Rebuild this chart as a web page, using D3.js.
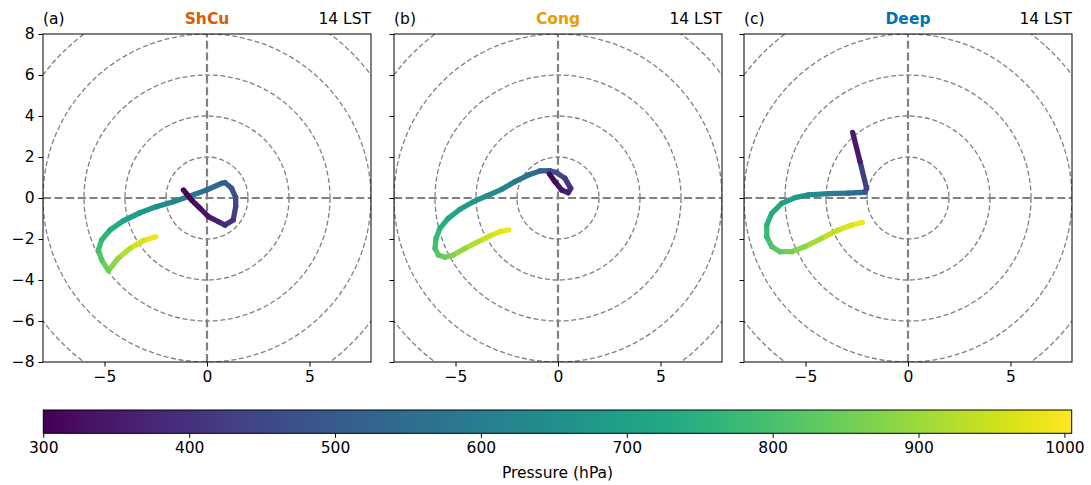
<!DOCTYPE html>
<html>
<head>
<meta charset="utf-8">
<script src="https://cdn.jsdelivr.net/npm/d3@7"></script>
<style>
  html, body { margin: 0; padding: 0; background: #fff; }
  svg { display: block; font-family: "DejaVu Sans", sans-serif; }
</style>
</head>
<body>
<svg id="chart" width="1091" height="485"></svg>
<script>
// ---------- data ----------
const panelLabels = ["(a)", "(b)", "(c)"];
const panelTitles = ["ShCu", "Cong", "Deep"];
const titleColors = ["#D55E00", "#E69F00", "#0072B2"];
const timeLabel = "14 LST";

// panel (a) ShCu: u, v (m/s), pressure (hPa), surface -> top
const uA = [-2.50,-3.11,-3.76,-4.33,-4.81,-5.14,-5.30,-5.14,-4.73,-4.08,-3.27,-2.46,-1.64,-0.83,-0.02,0.72,0.88,1.20,1.40,1.40,1.28,0.88,0.55,0.07,-0.34,-0.75,-1.15];
const vA = [-1.89,-2.08,-2.46,-2.94,-3.54,-3.02,-2.54,-2.05,-1.56,-1.11,-0.72,-0.42,-0.18,0.10,0.39,0.72,0.75,0.47,0.03,-0.42,-1.07,-1.32,-1.15,-0.91,-0.50,-0.10,0.39];
const pA = [1000,975,945,905,865,830,805,775,745,715,685,655,625,595,560,520,505,485,465,445,415,390,370,350,330,315,300];

// panel (b) Cong
const uB = [-2.39,-2.83,-3.32,-3.89,-4.54,-5.11,-5.51,-5.84,-6.00,-5.95,-5.76,-5.35,-4.78,-4.13,-3.48,-2.75,-2.10,-1.45,-0.88,-0.39,-0.07,0.34,0.62,0.50,0.18,-0.15,-0.42];
const vB = [-1.56,-1.64,-1.85,-2.13,-2.46,-2.78,-2.89,-2.78,-2.46,-1.97,-1.48,-0.99,-0.55,-0.18,0.10,0.42,0.80,1.12,1.32,1.33,1.24,0.96,0.47,0.26,0.39,0.80,1.17];
const pB = [1000,980,960,935,905,875,855,835,810,785,760,735,705,680,655,625,595,565,535,505,480,440,400,375,350,325,300];

// panel (c) Deep
const uC = [-2.23,-2.75,-3.40,-4.21,-5.02,-5.67,-6.24,-6.65,-6.89,-6.89,-6.65,-6.16,-5.51,-4.86,-3.89,-2.91,-2.10,-2.02,-2.34,-2.70];
const vC = [-1.19,-1.32,-1.56,-1.97,-2.37,-2.62,-2.62,-2.37,-1.89,-1.32,-0.75,-0.26,0.02,0.15,0.21,0.24,0.28,0.47,1.77,3.20];
const pC = [1000,980,955,925,895,865,840,815,790,765,740,715,690,660,620,570,510,470,390,300];

const axisTicksY = [-8,-6,-4,-2,0,2,4,6,8];
const axisTicksX = [-5,0,5];
const ringRadii = [2,4,6,8,10];
const axisDomain = [-8, 8];
const cbarDomain = [300, 1005];
const cbarTicks = [300,400,500,600,700,800,900,1000];
const cbarLabel = "Pressure (hPa)";

const panels = [
  {u: uA, v: vA, p: pA},
  {u: uB, v: vB, p: pB},
  {u: uC, v: vC, p: pC}
];

// ---------- layout ----------
const svg = d3.select("#chart");
const panelLeft = [43, 394, 744];
const panelTop = 34, size = 328;
const fs = 15.5;
const color = d3.scaleSequential(d3.interpolateViridis).domain(cbarDomain);
const grey = "#808080";

panels.forEach((d, i) => {
  const g = svg.append("g").attr("transform", `translate(${panelLeft[i]},${panelTop})`);
  const x = d3.scaleLinear().domain(axisDomain).range([0, size]);
  const y = d3.scaleLinear().domain(axisDomain).range([size, 0]);

  const clipId = "clip" + i;
  g.append("clipPath").attr("id", clipId).append("rect").attr("width", size).attr("height", size);
  const inner = g.append("g").attr("clip-path", `url(#${clipId})`);

  // rings
  inner.selectAll("circle.ring").data(ringRadii).join("circle")
    .attr("class", "ring")
    .attr("cx", x(0)).attr("cy", y(0))
    .attr("r", r => x(r) - x(0))
    .attr("fill", "none").attr("stroke", grey).attr("stroke-width", 1.3)
    .attr("stroke-dasharray", "5,2.6");

  // crosshair
  inner.append("line").attr("x1", x(-8)).attr("x2", x(8)).attr("y1", y(0)).attr("y2", y(0))
    .attr("stroke", grey).attr("stroke-width", 2.2).attr("stroke-dasharray", "8,3.6");
  inner.append("line").attr("x1", x(0)).attr("x2", x(0)).attr("y1", y(-8)).attr("y2", y(8))
    .attr("stroke", grey).attr("stroke-width", 2.2).attr("stroke-dasharray", "8,3.6");

  // hodograph segments
  const segs = d3.range(d.u.length - 1).map(k => ({
    x1: d.u[k], y1: d.v[k], x2: d.u[k+1], y2: d.v[k+1], p: (d.p[k] + d.p[k+1]) / 2
  }));
  inner.selectAll("line.seg").data(segs).join("line")
    .attr("class", "seg")
    .attr("x1", s => x(s.x1)).attr("y1", s => y(s.y1))
    .attr("x2", s => x(s.x2)).attr("y2", s => y(s.y2))
    .attr("stroke", s => color(s.p))
    .attr("stroke-width", 5.3)
    .attr("stroke-linecap", "round");

  // axes
  const xAxis = d3.axisBottom(x).tickValues(axisTicksX).tickSize(4.5).tickPadding(4)
    .tickFormat(t => t < 0 ? "\u2212" + Math.abs(t) : String(t));
  const gx = g.append("g").attr("transform", `translate(0,${size})`).call(xAxis);
  const yAxis = d3.axisLeft(y).tickValues(axisTicksY).tickSize(4.5).tickPadding(4)
    .tickFormat(i === 0 ? (t => t < 0 ? "\u2212" + Math.abs(t) : String(t)) : (() => ""));
  const gy = g.append("g").call(yAxis);
  [gx, gy].forEach(a => {
    a.select(".domain").remove();
    a.selectAll(".tick line").attr("stroke", "#000").attr("stroke-width", 1);
    a.selectAll(".tick text").attr("fill", "#000").style("font-size", fs + "px")
      .style("font-family", "DejaVu Sans, sans-serif");
  });

  // frame
  g.append("rect").attr("width", size).attr("height", size)
    .attr("fill", "none").attr("stroke", "#000").attr("stroke-width", 1);

  // titles
  g.append("text").attr("x", 0).attr("y", -10).text(panelLabels[i])
    .style("font-size", fs + "px");
  g.append("text").attr("x", size / 2).attr("y", -10).attr("text-anchor", "middle")
    .text(panelTitles[i]).attr("fill", titleColors[i]).attr("font-weight", "bold")
    .style("font-size", fs + "px");
  g.append("text").attr("x", size).attr("y", -10).attr("text-anchor", "end")
    .text(timeLabel).style("font-size", fs + "px");
});

// ---------- colorbar ----------
const cbX0 = 43.3, cbX1 = 1071.7, cbY = 410, cbH = 23.3;
const cx = d3.scaleLinear().domain(cbarDomain).range([cbX0, cbX1]);
const defs = svg.append("defs");
const grad = defs.append("linearGradient").attr("id", "viridisGrad")
  .attr("x1", "0%").attr("x2", "100%").attr("y1", "0%").attr("y2", "0%");
d3.range(0, 1.0001, 0.02).forEach(t => {
  grad.append("stop").attr("offset", (t * 100) + "%").attr("stop-color", d3.interpolateViridis(t));
});
svg.append("rect").attr("x", cbX0).attr("y", cbY).attr("width", cbX1 - cbX0).attr("height", cbH)
  .attr("fill", "url(#viridisGrad)").attr("stroke", "#000").attr("stroke-width", 1);
const cAxis = d3.axisBottom(cx).tickValues(cbarTicks).tickSize(4.5).tickPadding(4).tickFormat(d3.format("d"));
const gc = svg.append("g").attr("transform", `translate(0,${cbY + cbH})`).call(cAxis);
gc.select(".domain").remove();
gc.selectAll(".tick line").attr("stroke", "#000");
gc.selectAll(".tick text").attr("fill", "#000").style("font-size", fs + "px")
  .style("font-family", "DejaVu Sans, sans-serif");
svg.append("text").attr("x", (cbX0 + cbX1) / 2).attr("y", 478).attr("text-anchor", "middle")
  .text(cbarLabel).style("font-size", fs + "px");
</script>
</body>
</html>
